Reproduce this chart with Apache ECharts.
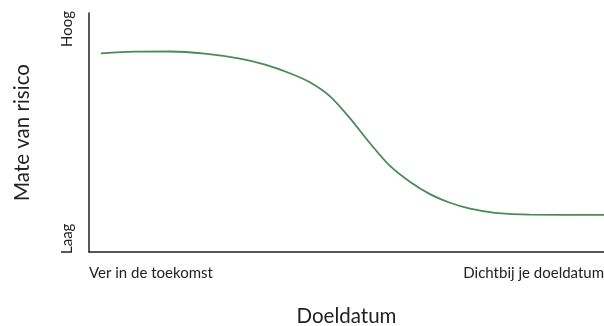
<!DOCTYPE html>
<html><head><meta charset="utf-8">
<script src="https://cdn.jsdelivr.net/npm/echarts@6/dist/echarts.min.js"></script>
<style>html,body{margin:0;padding:0;background:#fff}#c{width:604px;height:326px}</style>
</head><body><div id="c"></div>
<script>
const xValues = [2.3, 8.9, 15.7, 22.5, 29.3, 34.2, 39.0, 42.9, 46.8, 50.7, 54.6, 58.4, 62.3, 66.2, 70.1, 74.0, 78.8, 85.6, 100];
const riskValues = [83.1, 83.8, 83.9, 83.0, 80.9, 78.4, 74.8, 71.0, 65.1, 55.9, 45.4, 36.1, 29.4, 24.2, 20.6, 18.1, 16.4, 15.6, 15.5];
const xTickLabels = ['Ver in de toekomst', 'Dichtbij je doeldatum'];
const yTickLabels = ['Laag', 'Hoog'];
const xTitle = 'Doeldatum';
const yTitle = 'Mate van risico';

const font = 'Lato, "Open Sans", sans-serif';
const chart = echarts.init(document.getElementById('c'));
chart.setOption({
  animation: false,
  grid: {left: 89, right: 0, top: 13, bottom: 74, containLabel: false, outerBoundsMode: 'none'},
  xAxis: {
    type: 'value', min: 0, max: 100, interval: 100,
    axisLine: {lineStyle: {color: '#222', width: 1.5}},
    axisTick: {show: false}, splitLine: {show: false},
    axisLabel: {
      formatter: v => v === 0 ? xTickLabels[0] : xTickLabels[1],
      color: '#222', fontSize: 15, fontFamily: font, margin: 14,
      alignMinLabel: 'left', alignMaxLabel: 'right'
    },
    name: xTitle, nameLocation: 'middle', nameGap: 54,
    nameTextStyle: {color: '#222', fontSize: 20.5, fontFamily: font}
  },
  yAxis: {
    type: 'value', min: 0, max: 100, interval: 100,
    axisLine: {show: true, lineStyle: {color: '#222', width: 1.5}},
    axisTick: {show: false}, splitLine: {show: false},
    axisLabel: {show: false},
    name: yTitle, nameLocation: 'middle', nameGap: 56, nameRotate: 90,
    nameTextStyle: {color: '#222', fontSize: 20.5, fontFamily: font}
  },
  graphic: [
    {type: 'text', x: 75, y: 11, rotation: Math.PI / 2,
     style: {text: yTickLabels[1], fill: '#222', font: '15px ' + font, align: 'right', verticalAlign: 'bottom'}},
    {type: 'text', x: 75, y: 254, rotation: Math.PI / 2,
     style: {text: yTickLabels[0], fill: '#222', font: '15px ' + font, align: 'left', verticalAlign: 'bottom'}}
  ],
  series: [{
    type: 'line', smooth: 0.3, symbol: 'none',
    lineStyle: {color: '#4a8a57', width: 1.8},
    data: xValues.map((x, i) => [x, riskValues[i]])
  }]
});
</script></body></html>
